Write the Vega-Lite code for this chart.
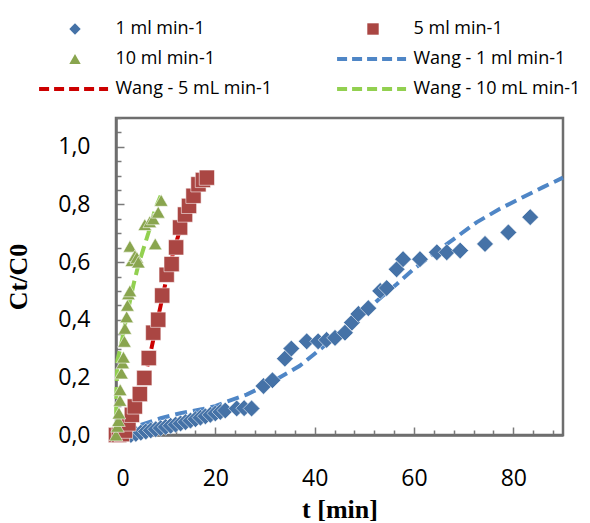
{
  "$schema": "https://vega.github.io/schema/vega-lite/v6.json",
  "width": 447,
  "height": 317,
  "autosize": {"type": "none"},
  "padding": {"left": 116, "top": 118, "right": 27, "bottom": 88},
  "background": "white",
  "config": {
    "view": {"stroke": "#6e6e6e", "strokeWidth": 2.5},
    "axis": {
      "labelFont": "Open Sans", "labelFontSize": 23, "labelColor": "black",
      "titleFont": "Liberation Serif", "titleFontSize": 26, "titleFontWeight": "bold", "titleColor": "black",
      "grid": false, "domainColor": "#6e6e6e", "domainWidth": 2.5, "tickColor": "#7a7a7a", "tickWidth": 1.5
    }
  },
  "data": {"values": [
    {"series": "1 ml min-1", "kind": "exp", "t": 3, "c": 0.0},
    {"series": "1 ml min-1", "kind": "exp", "t": 4, "c": 0.004},
    {"series": "1 ml min-1", "kind": "exp", "t": 5, "c": 0.008},
    {"series": "1 ml min-1", "kind": "exp", "t": 6, "c": 0.012},
    {"series": "1 ml min-1", "kind": "exp", "t": 7, "c": 0.016},
    {"series": "1 ml min-1", "kind": "exp", "t": 8, "c": 0.02},
    {"series": "1 ml min-1", "kind": "exp", "t": 9, "c": 0.024},
    {"series": "1 ml min-1", "kind": "exp", "t": 10, "c": 0.028},
    {"series": "1 ml min-1", "kind": "exp", "t": 11, "c": 0.032},
    {"series": "1 ml min-1", "kind": "exp", "t": 12, "c": 0.036},
    {"series": "1 ml min-1", "kind": "exp", "t": 13, "c": 0.04},
    {"series": "1 ml min-1", "kind": "exp", "t": 14, "c": 0.045},
    {"series": "1 ml min-1", "kind": "exp", "t": 15, "c": 0.05},
    {"series": "1 ml min-1", "kind": "exp", "t": 16, "c": 0.055},
    {"series": "1 ml min-1", "kind": "exp", "t": 17, "c": 0.06},
    {"series": "1 ml min-1", "kind": "exp", "t": 18, "c": 0.065},
    {"series": "1 ml min-1", "kind": "exp", "t": 19, "c": 0.07},
    {"series": "1 ml min-1", "kind": "exp", "t": 20, "c": 0.075},
    {"series": "1 ml min-1", "kind": "exp", "t": 21, "c": 0.08},
    {"series": "1 ml min-1", "kind": "exp", "t": 22, "c": 0.085},
    {"series": "1 ml min-1", "kind": "exp", "t": 24.3, "c": 0.092},
    {"series": "1 ml min-1", "kind": "exp", "t": 25.8, "c": 0.093},
    {"series": "1 ml min-1", "kind": "exp", "t": 27.3, "c": 0.092},
    {"series": "1 ml min-1", "kind": "exp", "t": 29.7, "c": 0.17},
    {"series": "1 ml min-1", "kind": "exp", "t": 31.5, "c": 0.19},
    {"series": "1 ml min-1", "kind": "exp", "t": 34, "c": 0.265},
    {"series": "1 ml min-1", "kind": "exp", "t": 35.3, "c": 0.3},
    {"series": "1 ml min-1", "kind": "exp", "t": 38.4, "c": 0.325},
    {"series": "1 ml min-1", "kind": "exp", "t": 40.7, "c": 0.325},
    {"series": "1 ml min-1", "kind": "exp", "t": 42.4, "c": 0.33},
    {"series": "1 ml min-1", "kind": "exp", "t": 44.1, "c": 0.337},
    {"series": "1 ml min-1", "kind": "exp", "t": 46.1, "c": 0.355},
    {"series": "1 ml min-1", "kind": "exp", "t": 47.5, "c": 0.39},
    {"series": "1 ml min-1", "kind": "exp", "t": 48.8, "c": 0.42},
    {"series": "1 ml min-1", "kind": "exp", "t": 50.8, "c": 0.44},
    {"series": "1 ml min-1", "kind": "exp", "t": 53.2, "c": 0.5},
    {"series": "1 ml min-1", "kind": "exp", "t": 54.5, "c": 0.51},
    {"series": "1 ml min-1", "kind": "exp", "t": 56.5, "c": 0.575},
    {"series": "1 ml min-1", "kind": "exp", "t": 57.8, "c": 0.61},
    {"series": "1 ml min-1", "kind": "exp", "t": 61.2, "c": 0.61},
    {"series": "1 ml min-1", "kind": "exp", "t": 64.6, "c": 0.634},
    {"series": "1 ml min-1", "kind": "exp", "t": 66.6, "c": 0.634},
    {"series": "1 ml min-1", "kind": "exp", "t": 69.3, "c": 0.64},
    {"series": "1 ml min-1", "kind": "exp", "t": 74.3, "c": 0.663},
    {"series": "1 ml min-1", "kind": "exp", "t": 79, "c": 0.703},
    {"series": "1 ml min-1", "kind": "exp", "t": 83.4, "c": 0.756},
    {"series": "5 ml min-1", "kind": "exp", "t": 0, "c": 0.0},
    {"series": "5 ml min-1", "kind": "exp", "t": 0.6, "c": 0.0},
    {"series": "5 ml min-1", "kind": "exp", "t": 1.2, "c": 0.003},
    {"series": "5 ml min-1", "kind": "exp", "t": 1.8, "c": 0.015},
    {"series": "5 ml min-1", "kind": "exp", "t": 2.5, "c": 0.04},
    {"series": "5 ml min-1", "kind": "exp", "t": 3.2, "c": 0.07},
    {"series": "5 ml min-1", "kind": "exp", "t": 3.8, "c": 0.099},
    {"series": "5 ml min-1", "kind": "exp", "t": 4.8, "c": 0.142},
    {"series": "5 ml min-1", "kind": "exp", "t": 5.7, "c": 0.198},
    {"series": "5 ml min-1", "kind": "exp", "t": 6.6, "c": 0.267},
    {"series": "5 ml min-1", "kind": "exp", "t": 7.5, "c": 0.355},
    {"series": "5 ml min-1", "kind": "exp", "t": 8.5, "c": 0.4},
    {"series": "5 ml min-1", "kind": "exp", "t": 9.3, "c": 0.484},
    {"series": "5 ml min-1", "kind": "exp", "t": 10.2, "c": 0.556},
    {"series": "5 ml min-1", "kind": "exp", "t": 11.2, "c": 0.593},
    {"series": "5 ml min-1", "kind": "exp", "t": 12.1, "c": 0.651},
    {"series": "5 ml min-1", "kind": "exp", "t": 12.9, "c": 0.72},
    {"series": "5 ml min-1", "kind": "exp", "t": 13.9, "c": 0.765},
    {"series": "5 ml min-1", "kind": "exp", "t": 14.7, "c": 0.795},
    {"series": "5 ml min-1", "kind": "exp", "t": 15.6, "c": 0.83},
    {"series": "5 ml min-1", "kind": "exp", "t": 16.6, "c": 0.87},
    {"series": "5 ml min-1", "kind": "exp", "t": 17.5, "c": 0.885},
    {"series": "5 ml min-1", "kind": "exp", "t": 18.3, "c": 0.893},
    {"series": "10 ml min-1", "kind": "exp", "t": 0, "c": 0.0},
    {"series": "10 ml min-1", "kind": "exp", "t": 0.3, "c": 0.03},
    {"series": "10 ml min-1", "kind": "exp", "t": 0.5, "c": 0.05},
    {"series": "10 ml min-1", "kind": "exp", "t": 0.6, "c": 0.076},
    {"series": "10 ml min-1", "kind": "exp", "t": 0.8, "c": 0.12},
    {"series": "10 ml min-1", "kind": "exp", "t": 0.85, "c": 0.157},
    {"series": "10 ml min-1", "kind": "exp", "t": 1.1, "c": 0.215},
    {"series": "10 ml min-1", "kind": "exp", "t": 1.35, "c": 0.25},
    {"series": "10 ml min-1", "kind": "exp", "t": 1.5, "c": 0.27},
    {"series": "10 ml min-1", "kind": "exp", "t": 1.7, "c": 0.325},
    {"series": "10 ml min-1", "kind": "exp", "t": 1.8, "c": 0.37},
    {"series": "10 ml min-1", "kind": "exp", "t": 2.15, "c": 0.41},
    {"series": "10 ml min-1", "kind": "exp", "t": 2.3, "c": 0.45},
    {"series": "10 ml min-1", "kind": "exp", "t": 2.5, "c": 0.49},
    {"series": "10 ml min-1", "kind": "exp", "t": 2.8, "c": 0.5},
    {"series": "10 ml min-1", "kind": "exp", "t": 3.2, "c": 0.605},
    {"series": "10 ml min-1", "kind": "exp", "t": 2.8, "c": 0.655},
    {"series": "10 ml min-1", "kind": "exp", "t": 3.8, "c": 0.622},
    {"series": "10 ml min-1", "kind": "exp", "t": 4.2, "c": 0.616},
    {"series": "10 ml min-1", "kind": "exp", "t": 4.5, "c": 0.6},
    {"series": "10 ml min-1", "kind": "exp", "t": 5.8, "c": 0.73},
    {"series": "10 ml min-1", "kind": "exp", "t": 6.8, "c": 0.74},
    {"series": "10 ml min-1", "kind": "exp", "t": 7.5, "c": 0.75},
    {"series": "10 ml min-1", "kind": "exp", "t": 7.9, "c": 0.663},
    {"series": "10 ml min-1", "kind": "exp", "t": 8.5, "c": 0.773},
    {"series": "10 ml min-1", "kind": "exp", "t": 9.1, "c": 0.814},
    {"series": "Wang - 1 ml min-1", "kind": "model", "t": 2, "c": 0.0},
    {"series": "Wang - 1 ml min-1", "kind": "model", "t": 3, "c": 0.012},
    {"series": "Wang - 1 ml min-1", "kind": "model", "t": 5, "c": 0.035},
    {"series": "Wang - 1 ml min-1", "kind": "model", "t": 9, "c": 0.058},
    {"series": "Wang - 1 ml min-1", "kind": "model", "t": 13, "c": 0.076},
    {"series": "Wang - 1 ml min-1", "kind": "model", "t": 17.5, "c": 0.09},
    {"series": "Wang - 1 ml min-1", "kind": "model", "t": 20, "c": 0.1},
    {"series": "Wang - 1 ml min-1", "kind": "model", "t": 22.3, "c": 0.116},
    {"series": "Wang - 1 ml min-1", "kind": "model", "t": 26.3, "c": 0.14},
    {"series": "Wang - 1 ml min-1", "kind": "model", "t": 30.3, "c": 0.174},
    {"series": "Wang - 1 ml min-1", "kind": "model", "t": 35, "c": 0.22},
    {"series": "Wang - 1 ml min-1", "kind": "model", "t": 37, "c": 0.24},
    {"series": "Wang - 1 ml min-1", "kind": "model", "t": 41, "c": 0.296},
    {"series": "Wang - 1 ml min-1", "kind": "model", "t": 45, "c": 0.355},
    {"series": "Wang - 1 ml min-1", "kind": "model", "t": 50, "c": 0.425},
    {"series": "Wang - 1 ml min-1", "kind": "model", "t": 53.5, "c": 0.48},
    {"series": "Wang - 1 ml min-1", "kind": "model", "t": 56.5, "c": 0.523},
    {"series": "Wang - 1 ml min-1", "kind": "model", "t": 59.9, "c": 0.575},
    {"series": "Wang - 1 ml min-1", "kind": "model", "t": 64, "c": 0.63},
    {"series": "Wang - 1 ml min-1", "kind": "model", "t": 68, "c": 0.68},
    {"series": "Wang - 1 ml min-1", "kind": "model", "t": 72.6, "c": 0.738},
    {"series": "Wang - 1 ml min-1", "kind": "model", "t": 77.3, "c": 0.785},
    {"series": "Wang - 1 ml min-1", "kind": "model", "t": 82, "c": 0.826},
    {"series": "Wang - 1 ml min-1", "kind": "model", "t": 86, "c": 0.86},
    {"series": "Wang - 1 ml min-1", "kind": "model", "t": 90, "c": 0.893},
    {"series": "Wang - 5 mL min-1", "kind": "model", "t": 2, "c": 0.0},
    {"series": "Wang - 5 mL min-1", "kind": "model", "t": 3, "c": 0.04},
    {"series": "Wang - 5 mL min-1", "kind": "model", "t": 4, "c": 0.09},
    {"series": "Wang - 5 mL min-1", "kind": "model", "t": 5, "c": 0.15},
    {"series": "Wang - 5 mL min-1", "kind": "model", "t": 6, "c": 0.215},
    {"series": "Wang - 5 mL min-1", "kind": "model", "t": 7, "c": 0.29},
    {"series": "Wang - 5 mL min-1", "kind": "model", "t": 8, "c": 0.37},
    {"series": "Wang - 5 mL min-1", "kind": "model", "t": 9, "c": 0.45},
    {"series": "Wang - 5 mL min-1", "kind": "model", "t": 10, "c": 0.53},
    {"series": "Wang - 5 mL min-1", "kind": "model", "t": 11, "c": 0.6},
    {"series": "Wang - 5 mL min-1", "kind": "model", "t": 12, "c": 0.66},
    {"series": "Wang - 5 mL min-1", "kind": "model", "t": 13, "c": 0.72},
    {"series": "Wang - 5 mL min-1", "kind": "model", "t": 14, "c": 0.77},
    {"series": "Wang - 5 mL min-1", "kind": "model", "t": 15, "c": 0.81},
    {"series": "Wang - 5 mL min-1", "kind": "model", "t": 16, "c": 0.85},
    {"series": "Wang - 5 mL min-1", "kind": "model", "t": 17, "c": 0.88},
    {"series": "Wang - 5 mL min-1", "kind": "model", "t": 18, "c": 0.9},
    {"series": "Wang - 10 mL min-1", "kind": "model", "t": 0, "c": 0.0},
    {"series": "Wang - 10 mL min-1", "kind": "model", "t": 0.1, "c": 0.15},
    {"series": "Wang - 10 mL min-1", "kind": "model", "t": 0.3, "c": 0.26},
    {"series": "Wang - 10 mL min-1", "kind": "model", "t": 1, "c": 0.31},
    {"series": "Wang - 10 mL min-1", "kind": "model", "t": 2, "c": 0.4},
    {"series": "Wang - 10 mL min-1", "kind": "model", "t": 3, "c": 0.48},
    {"series": "Wang - 10 mL min-1", "kind": "model", "t": 3.5, "c": 0.52},
    {"series": "Wang - 10 mL min-1", "kind": "model", "t": 4.5, "c": 0.59},
    {"series": "Wang - 10 mL min-1", "kind": "model", "t": 5.6, "c": 0.65},
    {"series": "Wang - 10 mL min-1", "kind": "model", "t": 6.5, "c": 0.7},
    {"series": "Wang - 10 mL min-1", "kind": "model", "t": 7.9, "c": 0.785},
    {"series": "Wang - 10 mL min-1", "kind": "model", "t": 9, "c": 0.83}
  ]},
  "encoding": {
    "x": {"field": "t", "type": "quantitative",
      "scale": {"domain": [0, 90], "nice": false, "zero": false},
      "axis": {
        "title": "t [min]",
        "values": [0,4,8,12,16,20,24,28,32,36,40,44,48,52,56,60,64,68,72,76,80,84,88],
        "labelExpr": "datum.value % 20 === 0 ? datum.label : ''",
        "labelOverlap": false,
        "tickSize": {"condition": {"test": "datum.value % 20 === 0", "value": -8}, "value": -5},
        "labelPadding": 40,
        "titlePadding": 3
      }
    },
    "y": {"field": "c", "type": "quantitative",
      "scale": {"domain": [0, 1.1], "nice": false},
      "axis": {
        "title": "Ct/C0",
        "values": [0,0.05,0.1,0.15,0.2,0.25,0.3,0.35,0.4,0.45,0.5,0.55,0.6,0.65,0.7,0.75,0.8,0.85,0.9,0.95,1,1.05,1.1],
        "labelExpr": "abs(datum.value*5 - round(datum.value*5)) < 0.001 ? replace(format(datum.value, '.1f'), '.', ',') : ''",
        "labelOverlap": false,
        "tickSize": {"condition": {"test": "abs(datum.value*5 - round(datum.value*5)) < 0.001", "value": -8}, "value": -5},
        "labelPadding": 34,
        "titlePadding": 26
      }
    },
    "color": {"field": "series", "type": "nominal",
      "scale": {
        "domain": ["1 ml min-1", "10 ml min-1", "Wang - 5 mL min-1", "5 ml min-1", "Wang - 1 ml min-1", "Wang - 10 mL min-1"],
        "range": ["#4572A7", "#89A54E", "#CC0000", "#AA4643", "#4F86C6", "#92D050"]
      },
      "legend": {
        "orient": "none", "legendX": -50, "legendY": -98,
        "columns": 2, "columnPadding": 56, "rowPadding": 12,
        "title": null, "padding": 0,
        "symbolSize": 130, "symbolStrokeWidth": 4, "symbolOffset": 0,
        "labelFont": "Open Sans", "labelFontSize": 18, "labelColor": "black", "labelOffset": 31.5, "labelLimit": 300,
        "encode": {"symbols": {"update": {
          "shape": {"signal": "datum.value === '1 ml min-1' ? 'diamond' : datum.value === '5 ml min-1' ? 'square' : datum.value === '10 ml min-1' ? 'triangle-up' : 'M-6.3,0H5.8'"},
          "fill": {"scale": "color", "field": "value"},
          "stroke": {"scale": "color", "field": "value"},
          "fillOpacity": {"signal": "indexof(datum.value, 'Wang') === 0 ? 0 : 1"},
          "strokeOpacity": {"signal": "indexof(datum.value, 'Wang') === 0 ? 1 : 0"},
          "strokeDash": {"signal": "indexof(datum.value, 'Wang') === 0 ? [10, 5] : [1, 0]"},
          "opacity": {"value": 1}
        }}}
      }
    }
  },
  "layer": [
    {
      "transform": [{"filter": "datum.kind === 'model'"}],
      "mark": {"type": "line", "strokeWidth": 4, "strokeDash": [12, 6], "strokeCap": "butt"}
    },
    {
      "transform": [{"filter": "datum.kind === 'exp'"}],
      "mark": {"type": "point", "filled": true, "opacity": 1, "stroke": "white", "strokeWidth": 0.7, "strokeOpacity": 0.8},
      "encoding": {
        "shape": {"field": "series", "type": "nominal", "legend": null,
          "scale": {"domain": ["1 ml min-1", "5 ml min-1", "10 ml min-1"], "range": ["diamond", "square", "triangle-up"]}},
        "size": {"field": "series", "type": "nominal", "legend": null,
          "scale": {"domain": ["1 ml min-1", "5 ml min-1", "10 ml min-1"], "range": [280, 185, 280]}}
      }
    }
  ]
}
